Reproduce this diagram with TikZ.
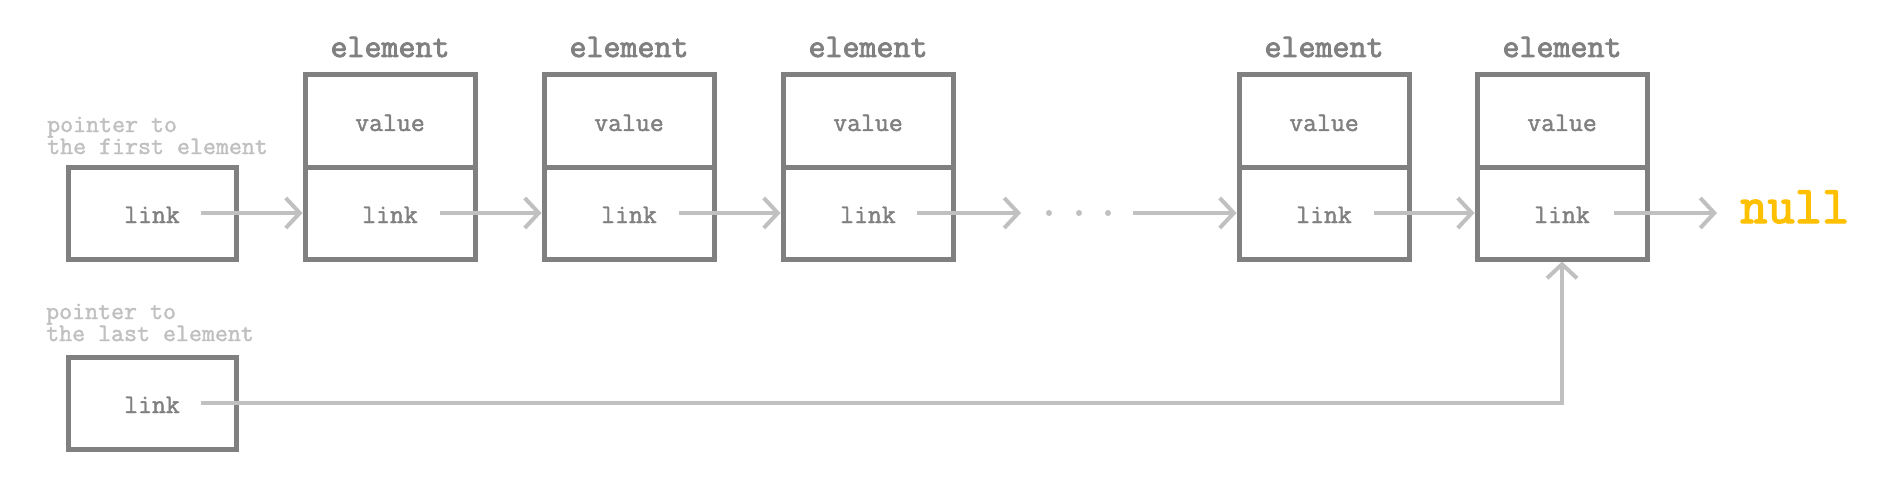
\documentclass[tikz,border=0pt]{standalone}
\usepackage{fontspec}
\newfontfamily\cmono{Latin Modern Mono}[FakeBold=1.6]
\newfontfamily\cmonob{Latin Modern Mono}[FakeBold=2.6]
\usetikzlibrary{arrows.meta,calc}
\definecolor{boxg}{HTML}{808080}
\definecolor{lightg}{HTML}{C0C0C0}
\definecolor{nullc}{HTML}{FFC000}
\tikzset{
  cell/.style={draw=boxg, line width=5pt, minimum width=170pt, minimum height=92pt,
    text height=20pt, text depth=0pt, inner sep=0pt, text=boxg,
    font=\cmono\fontsize{27}{27}\selectfont},
  ptrbox/.style={cell, minimum width=168pt},
  elabel/.style={anchor=base, inner sep=0pt, text=boxg, font=\cmonob\fontsize{33}{33}\selectfont},
  plabel/.style={anchor=base west, inner sep=0pt, text=lightg, align=left,
    font=\cmono\fontsize{25.2}{22}\selectfont},
  arr/.style={draw=lightg, line width=4pt, -{Straight Barb[length=14pt,width=30pt]}},
  dotn/.style={circle, fill=lightg, inner sep=0pt, minimum size=6pt},
}
\begin{document}
\begin{tikzpicture}[x=1pt,y=-1pt]
\useasboundingbox (0,0) rectangle (1897,492);
% pointer boxes
\node[ptrbox] (p1) at (152,213) {link};
\node[ptrbox] (p2) at (152,403) {link};
\node[plabel] (p1t) at (47,154) {pointer to\\the first element};
\node[plabel] (p2t) at (46,341) {pointer to\\the last element};
% elements
\foreach \n/\x in {1/390,2/629,3/868,4/1324,5/1562}{
  \node[cell] (e\n v) at (\x,121) {value};
  \node[cell] (e\n l) at (\x,213) {link};
  \node[elabel] (e\n t) at (\x,57) {element};
}
% dots
\node[dotn] (d1) at (1049,213) {};
\node[dotn] (d2) at (1079,213) {};
\node[dotn] (d3) at (1108,213) {};
% null
\node[anchor=base west, inner sep=0pt, text=nullc, font=\cmonob\fontsize{53}{53}\selectfont] (null) at (1740,223) {null};
\coordinate (nullin) at (1717,213);
% arrows
\draw[arr] ($(p1.center)+(49,0)$) -- (e1l.west);
\draw[arr] ($(e1l.center)+(50,0)$) -- (e2l.west);
\draw[arr] ($(e2l.center)+(50,0)$) -- (e3l.west);
\draw[arr] ($(e3l.center)+(49,0)$) -- ($(d1)+(-28,0)$);
\draw[arr] ($(d3)+(25,0)$) -- (e4l.west);
\draw[arr] ($(e4l.center)+(50,0)$) -- (e5l.west);
\draw[arr] ($(e5l.center)+(52,0)$) -- (nullin);
\draw[arr] ($(p2.center)+(49,0)$) -| (e5l.south);
\end{tikzpicture}
\end{document}
